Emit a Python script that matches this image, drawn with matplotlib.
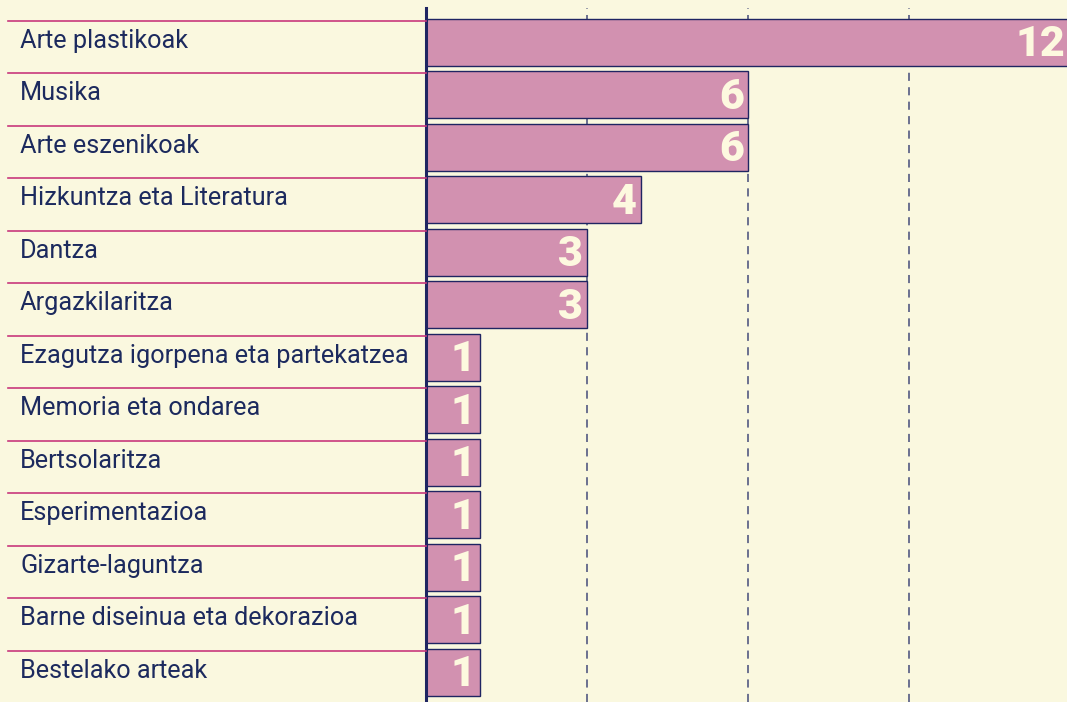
import matplotlib
matplotlib.use("Agg")
import matplotlib.pyplot as plt
from matplotlib import transforms
from matplotlib.lines import Line2D

categories = ["Arte plastikoak", "Musika", "Arte eszenikoak", "Hizkuntza eta Literatura",
              "Dantza", "Argazkilaritza", "Ezagutza igorpena eta partekatzea",
              "Memoria eta ondarea", "Bertsolaritza", "Esperimentazioa",
              "Gizarte-laguntza", "Barne diseinua eta dekorazioa", "Bestelako arteak"]
values = [12, 6, 6, 4, 3, 3, 1, 1, 1, 1, 1, 1, 1]
grid_ticks = [3, 6, 9]

BG = "#faf8df"
BAR = "#d291b0"
NAVY = "#1f2562"
LINE = "#c8387c"
TXT = "#1c2a5e"
NUM = "#fdf9df"

W, H = 1067, 702
fig = plt.figure(figsize=(W / 100, H / 100), dpi=100, facecolor=BG)
ax = fig.add_axes([426 / W, 0, 1 - 426 / W, (H - 8) / H])
ax.set_facecolor(BG)

n = len(categories)
ys = list(range(n))
ax.set_xlim(0, (W - 426) / 53.67)
ax.set_ylim((H - 42.25) / 52.5, (8 - 42.25) / 52.5)

for g in grid_ticks:
    ax.axvline(g, color="#5f6589", lw=1.3, dashes=(4.5, 3.5), zorder=1)

ax.barh(ys, values, height=0.886, color=BAR, edgecolor=NAVY, linewidth=1.0, zorder=2)

for y, v in zip(ys, values):
    ax.text(v - 0.08, y + 0.05, str(v), ha="right", va="center", color=NUM,
            fontsize=31, fontweight="black", family=["Roboto", "DejaVu Sans"], zorder=3)

for s in ax.spines.values():
    s.set_visible(False)
ax.set_xticks([])
ax.set_yticks([])
ax.axvline(0, color=NAVY, lw=2.2, zorder=4, clip_on=False)

tr = transforms.blended_transform_factory(fig.transFigure, ax.transData)
for y, lab in zip(ys, categories):
    ln = Line2D([8 / W, 426 / W], [y - 0.414, y - 0.414], transform=tr, color=LINE,
                lw=1.2, clip_on=False)
    fig.add_artist(ln)
    fig.text(20 / W, y - 0.03, lab, transform=tr, ha="left", va="center", color=TXT,
             fontsize=18.2, family=["Roboto", "DejaVu Sans"])

fig.savefig("out.png", dpi=100, facecolor=BG)
